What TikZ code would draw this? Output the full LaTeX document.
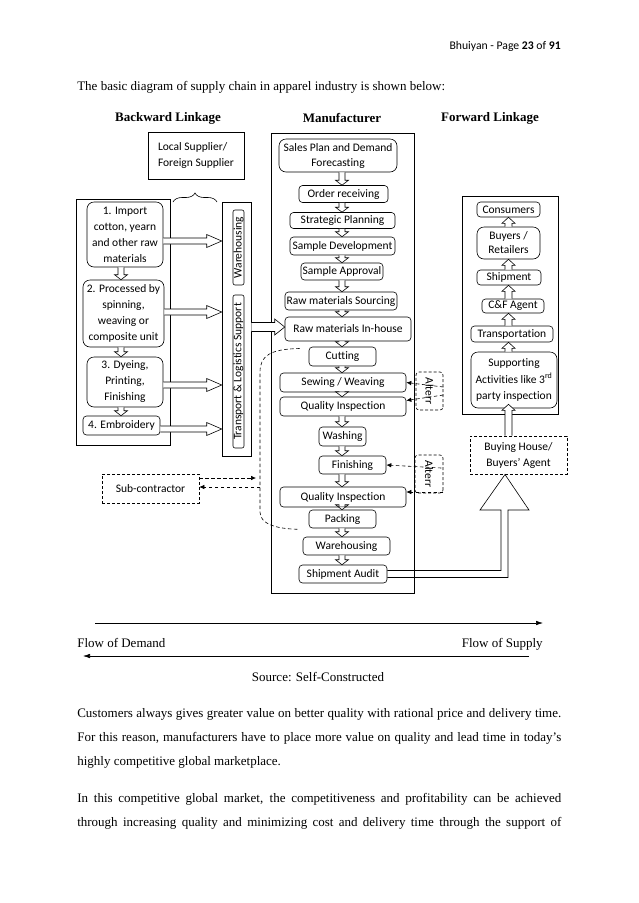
\documentclass[tikz,border=0pt]{standalone}
\usepackage{fontspec}
\setmainfont{Liberation Serif}
\newfontfamily\calib[Ligatures=NoCommon]{Carlito}
\usetikzlibrary{calc,arrows.meta,decorations.pathreplacing}
% hollow block arrows between named points
\newcommand\dnarr[2]{\draw[blockarr] let \p1=(#1), \p2=(#2) in (\x1-3pt,\y1) -- (\x1-3pt,\y2+5pt) -- (\x1-6.5pt,\y2+5pt) -- (\x1,\y2) -- (\x1+6.5pt,\y2+5pt) -- (\x1+3pt,\y2+5pt) -- (\x1+3pt,\y1);}
\newcommand\uparr[2]{\draw[blockarr] let \p1=(#1), \p2=(#2) in (\x1-3.5pt,\y1) -- (\x1-3.5pt,\y2-6pt) -- (\x1-6.5pt,\y2-6pt) -- (\x1,\y2) -- (\x1+6.5pt,\y2-6pt) -- (\x1+3.5pt,\y2-6pt) -- (\x1+3.5pt,\y1);}
\newcommand\rtarr[5]{\draw[blockarr] let \p1=(#1), \p2=(#2) in (\x1,\y1+#3) -- (\x2-#5,\y1+#3) -- (\x2-#5,\y1+#4) -- (\x2,\y1) -- (\x2-#5,\y1-#4) -- (\x2-#5,\y1-#3) -- (\x1,\y1-#3);}
\begin{document}
\begin{tikzpicture}[x=1pt,y=-1pt, line width=0.6pt,
 lab/.style={font=\calib\fontsize{11.5}{16}\selectfont, align=center, inner sep=0pt},
 sz/.style 2 args={minimum width=#1pt, minimum height=#2pt},
 rb/.style={lab, draw, rounded corners=3.5pt},
 rbb/.style={lab, draw, rounded corners=7pt},
 db/.style={lab, draw, dash pattern=on 3pt off 2pt},
 frame/.style={draw, inner sep=0pt},
 blockarr/.style={draw=black, fill=white, line width=0.6pt},
 dasharr/.style={dash pattern=on 3.5pt off 2.5pt, -{Latex[length=5pt,width=4.5pt]}},
 flow/.style={-{Latex[length=7pt,width=4.5pt]}},
 body/.style={font=\fontsize{13}{24}\selectfont, inner sep=0pt},
 ttl/.style={font=\bfseries\fontsize{13}{15}\selectfont, inner sep=0pt}
]
\fill[white] (0,0) rectangle (638,903);
\path[use as bounding box] (0,0) rectangle (638,903);

% header and intro
\node[anchor=base east, font=\calib\fontsize{11.7}{14}\selectfont, inner sep=0pt] (hdr) at (561,49) {Bhuiyan - Page \textbf{23} of \textbf{91}};
\node[body, anchor=base west] (intro) at (77,90) {The basic diagram of supply chain in apparel industry is shown below:};

% column titles
\node[ttl] (tb) at (168,118) {Backward Linkage};
\node[ttl] (tm) at (342,118) {Manufacturer};
\node[ttl] (tf) at (490,118) {Forward Linkage};

% ---------------- Backward linkage
\node[lab, draw, sz={96}{47}, align=left] (lsup) at (196,155.5) {Local Supplier/\\Foreign Supplier};
\draw[decorate, decoration={brace, amplitude=9pt, aspect=0.5}] (173,202) -- (217,202);

\node[frame, sz={94}{246}] (lframe) at (123,322) {};
\node[rbb, sz={76}{65}] (b1) at (125,234.5) {1. Import\\cotton, yearn\\and other raw\\materials};
\node[rbb, sz={81}{67}] (b2) at (123.5,313.5) {2. Processed by\\spinning,\\weaving or\\composite unit};
\node[rbb, sz={76}{50}] (b3) at (125,382) {3. Dyeing,\\Printing,\\Finishing};
\node[rb, sz={77}{19}] (b4) at (121.5,425.5) {4. Embroidery};

\node[frame, sz={29}{254}] (col) at (236.5,329) {};
\node[rb, rotate=90, sz={75}{11}, rounded corners=2pt] (wh) at (238.5,247.5) {Warehousing};
\node[rb, rotate=90, sz={153}{11}, rounded corners=2pt] (tls) at (238.5,371.5) {Transport \& Logistics Support};

\coordinate (lx) at (121,0);
\dnarr{b1.south -| lx}{b2.north -| lx}
\dnarr{b2.south -| lx}{b3.north -| lx}
\dnarr{b3.south -| lx}{b4.north -| lx}

\coordinate (ya) at (0,241);
\coordinate (yb) at (0,312);
\coordinate (yc) at (0,385);
\coordinate (yd) at (0,429);
\rtarr{b1.east |- ya}{col.west |- ya}{3pt}{6.5pt}{15pt}
\rtarr{b2.east |- yb}{col.west |- yb}{3pt}{6.5pt}{15pt}
\rtarr{b3.east |- yc}{col.west |- yc}{3pt}{6.5pt}{15pt}
\rtarr{b4.east |- yd}{col.west |- yd}{3pt}{6.5pt}{15pt}

% ---------------- Manufacturer
\node[frame, sz={143}{460}] (mframe) at (342.5,363) {};
\node[rbb, sz={118}{33}, font=\calib\fontsize{11.5}{15}\selectfont] (sales) at (338,155.5) {Sales Plan and Demand\\Forecasting};
\node[rb, sz={89}{17}] (order) at (343.5,194) {Order receiving};
\node[rb, sz={105}{16}] (strat) at (342.5,220.5) {Strategic Planning};
\node[rb, sz={105}{18}] (sdev) at (342.5,246) {Sample Development};
\node[rb, sz={82}{17}] (sapp) at (342,271.5) {Sample Approval};
\node[rb, sz={112}{18}] (rms) at (341,301) {Raw materials Sourcing};
\node[rb, sz={126}{24}] (rmi) at (348,329) {Raw materials In-house};
\node[rb, sz={67}{19}] (cut) at (342.5,356.5) {Cutting};
\node[rb, sz={126}{19}] (sew) at (343,382.5) {Sewing / Weaving};
\node[rb, sz={126}{19}] (qi1) at (343,406.5) {Quality Inspection};
\node[rb, sz={47}{19}] (wash) at (342.5,436.5) {Washing};
\node[rb, sz={67}{18}] (fin) at (352.5,465) {Finishing};
\node[rb, sz={126}{20}] (qi2) at (343,497) {Quality Inspection};
\node[rb, sz={67}{18}] (pack) at (342.5,519) {Packing};
\node[rb, sz={87}{18}] (mwh) at (346.5,546) {Warehousing};
\node[rb, sz={88}{18}] (saud) at (343,574) {Shipment Audit};

\coordinate (mx) at (342,0);
\dnarr{sales.south -| mx}{order.north -| mx}
\dnarr{order.south -| mx}{strat.north -| mx}
\dnarr{strat.south -| mx}{sdev.north -| mx}
\dnarr{sdev.south -| mx}{sapp.north -| mx}
\dnarr{sapp.south -| mx}{rms.north -| mx}
\dnarr{rms.south -| mx}{rmi.north -| mx}
\dnarr{rmi.south -| mx}{cut.north -| mx}
\dnarr{cut.south -| mx}{sew.north -| mx}
\dnarr{sew.south -| mx}{qi1.north -| mx}
\dnarr{qi1.south -| mx}{wash.north -| mx}
\dnarr{wash.south -| mx}{fin.north -| mx}
\dnarr{fin.south -| mx}{qi2.north -| mx}
\dnarr{qi2.south -| mx}{pack.north -| mx}
\dnarr{pack.south -| mx}{mwh.north -| mx}
\dnarr{mwh.south -| mx}{saud.north -| mx}

% transport to raw materials in-house
\coordinate (ye) at (0,327);
\rtarr{col.east |- ye}{rmi.west |- ye}{4.5pt}{8pt}{10pt}

% Alterr boxes
\node[db, rounded corners=3pt, rotate=-90, sz={38}{27}] (alt1) at (429.5,391) {Alterr};
\node[db, rounded corners=3pt, rotate=-90, sz={38}{28}] (alt2) at (429,474) {Alterr};
\draw[dasharr] ($(alt1.north)+(0,-4)$) -- (sew.east);
\draw[dasharr] ($(alt1.north)+(0,4)$) -- ($(qi1.east)+(0,-6)$);
\draw[dasharr] ($(alt2.north)+(-2,-6)$) -- (fin.east);
\draw[dasharr] ($(alt2.north)+(0,18)$) -- ($(qi2.east)+(0,-5)$);

% sub-contract loop
\draw[dash pattern=on 3.5pt off 2.5pt] ($(cut.west)+(-9,-8)$) .. controls (270,349) and (260,356) .. (260,372) -- (260,512) .. controls (260,524) and (276,529) .. ($(pack.south west)+(-9,1)$);
\node[db, sz={97}{29}] (sub) at (150.5,488.5) {Sub-contractor};
\coordinate (sa) at (256,478);
\coordinate (sb) at (260,487);
\draw[dasharr] (sub.east |- sa) -- (sa);
\draw[dasharr] (sb) -- (sub.east |- sb);

% ---------------- Forward linkage
\node[frame, sz={96}{218}] (fframe) at (510,305) {};
\node[rb, sz={63}{15}] (cons) at (508.5,209.5) {Consumers};
\node[rbb, sz={63}{32}, font=\calib\fontsize{11.5}{14}\selectfont] (buy) at (508.5,243) {Buyers /\\Retailers};
\node[rb, sz={64}{15}] (ship) at (509,277.5) {Shipment};
\node[rb, sz={62}{14}] (cf) at (513,306) {C\&F Agent};
\node[rb, sz={82}{16}] (trans) at (512,334) {Transportation};
\node[rbb, sz={86}{56}, font=\calib\fontsize{11.5}{16.5}\selectfont] (supp) at (514,380) {Supporting\\Activities like 3\textsuperscript{rd}\\party inspection};
\node[db, sz={97}{38}] (bh) at (518.5,455) {Buying House/\\Buyers’ Agent};

\coordinate (fx) at (508.5,0);
\uparr{supp.north -| fx}{trans.south -| fx}
\uparr{trans.north -| fx}{cf.south -| fx}
\uparr{cf.north -| fx}{ship.south -| fx}
\uparr{ship.north -| fx}{buy.south -| fx}
\uparr{buy.north -| fx}{cons.south -| fx}
\uparr{bh.north -| fx}{$(supp.south -| fx)+(0,-4)$}

% big hollow arrow from shipment audit to buying house
\coordinate (tip) at (505,474.5);
\draw ($(saud.east)+(0,-3.5)$) -- (501,570.5) -- (501,510) -- (480,510) -- (tip) -- (529,510) -- (508,510) -- (508,577.5) -- ($(saud.east)+(0,3.5)$);

% ---------------- flows
\coordinate (f1s) at (95,623);
\coordinate (f1e) at (543,623);
\coordinate (f2s) at (529,656);
\coordinate (f2e) at (83,656);
\draw[flow] (f1s) -- (f1e);
\draw[flow] (f2s) -- (f2e);
\node[body, anchor=base west] (fd) at (77,647) {Flow of Demand};
\node[body, anchor=base east] (fs) at (543,647) {Flow of Supply};
\node[body, anchor=base] (src) at (318,681) {Source: Self-Constructed};

% ---------------- paragraphs
\node[body, anchor=base west] (p1a) at (77,717) {\makebox[484pt][s]{Customers always gives greater value on better quality with rational price and delivery time.}};
\node[body, anchor=base west] (p1b) at (77,741) {\makebox[484pt][s]{For this reason, manufacturers have to place more value on quality and lead time in today's}};
\node[body, anchor=base west] (p1c) at (77,765) {highly competitive global marketplace.};
\node[body, anchor=base west] (p2a) at (77,802) {\makebox[484pt][s]{In this competitive global market, the competitiveness and profitability can be achieved}};
\node[body, anchor=base west] (p2b) at (77,826) {\makebox[484pt][s]{through increasing quality and minimizing cost and delivery time through the support of}};
\end{tikzpicture}
\end{document}
